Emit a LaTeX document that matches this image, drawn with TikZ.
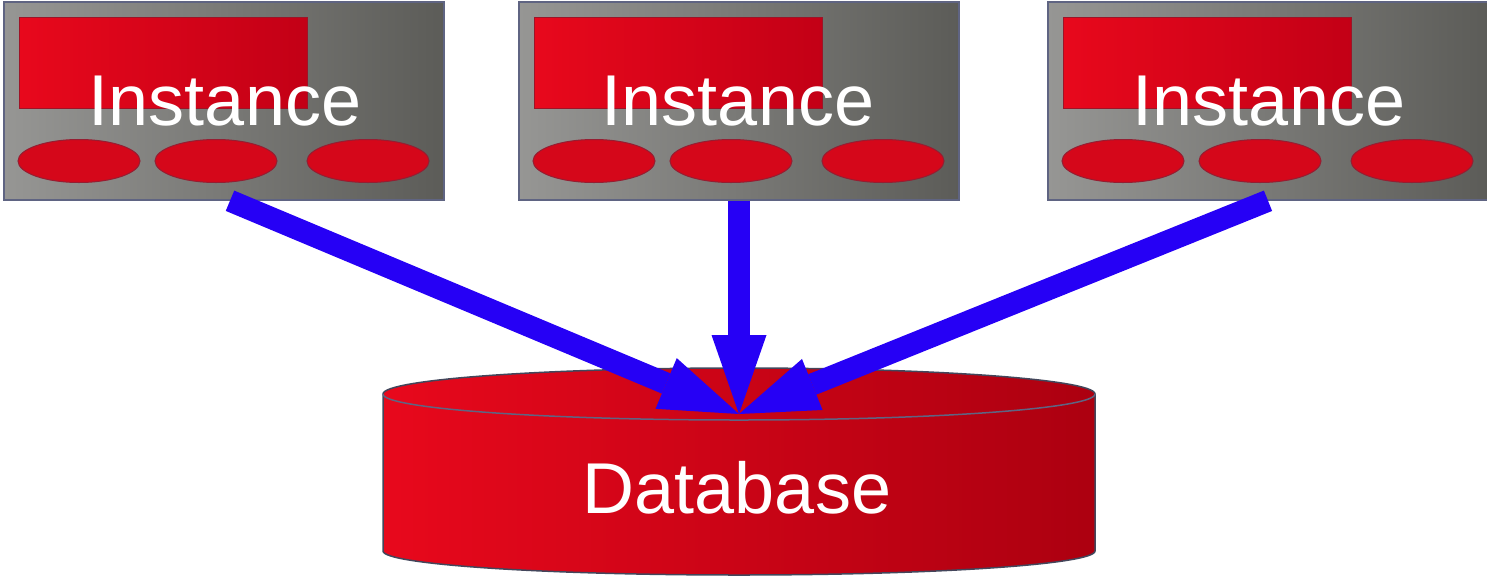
\documentclass[tikz,border=0pt]{standalone}
\usepackage{fontspec}
\setmainfont{Liberation Sans}
\usetikzlibrary{shapes.geometric,arrows.meta}
\definecolor{boxlight}{RGB}{150,150,148}
\definecolor{boxdark}{RGB}{92,92,88}
\definecolor{redlight}{RGB}{232,8,28}
\definecolor{reddark}{RGB}{172,0,16}
\definecolor{screendark}{RGB}{195,0,22}
\definecolor{rimline}{RGB}{95,100,130}
\definecolor{flowblue}{RGB}{38,0,245}

\begin{document}
\begin{tikzpicture}
[every node/.style={inner sep=0pt},
 instbox/.style={rectangle, minimum width=440pt, minimum height=198pt, left color=boxlight, right color=boxdark, line width=1.5pt, draw=rimline},
 screen/.style={rectangle, minimum width=288pt, minimum height=91pt, left color=redlight, right color=screendark, line width=1pt, draw=reddark!80!rimline},
 led/.style={ellipse, minimum width=122pt, minimum height=43pt, fill=redlight!92!black, line width=1pt, draw=reddark!70!rimline},
 caption/.style={text=white, font=\fontsize{72}{80}\selectfont, anchor=base},
 flow/.style={line width=22pt, color=flowblue, -{Triangle[length=79pt, width=55pt, line width=0pt]}}]
\useasboundingbox (0pt, 0pt) rectangle (1487pt, -576pt);
\node (inst1) [instbox] at (224pt, -101pt) {};
\node (scr1) [screen] at (163pt, -62.5pt) {};
\node (led1a) [led] at (79pt, -161pt) {};
\node (led1b) [led] at (216pt, -161pt) {};
\node (led1c) [led] at (368pt, -161pt) {};
\node (lbl1) [caption] at (225pt, -125pt) {Instance};
\node (inst2) [instbox] at (739pt, -101pt) {};
\node (scr2) [screen] at (678pt, -62.5pt) {};
\node (led2a) [led] at (594pt, -161pt) {};
\node (led2b) [led] at (731pt, -161pt) {};
\node (led2c) [led] at (883pt, -161pt) {};
\node (lbl2) [caption] at (738pt, -125pt) {Instance};
\node (inst3) [instbox] at (1268pt, -101pt) {};
\node (scr3) [screen] at (1207pt, -62.5pt) {};
\node (led3a) [led] at (1123pt, -161pt) {};
\node (led3b) [led] at (1260pt, -161pt) {};
\node (led3c) [led] at (1412pt, -161pt) {};
\node (lbl3) [caption] at (1269pt, -125pt) {Instance};
% database drum
\path [left color=redlight, right color=reddark, draw=rimline!70!black, line width=1.5pt] (383pt, -394pt) -- (383pt, -551pt) arc [start angle=180, end angle=360, x radius=356pt, y radius=24pt] -- (1095pt, -394pt) arc [start angle=0, end angle=180, x radius=356pt, y radius=26pt] -- cycle;
\draw [rimline, line width=1.5pt] (383pt, -394pt) arc [start angle=180, end angle=360, x radius=356pt, y radius=26pt];
\coordinate (dbtop) at (739pt, -414pt);
\node (db) [caption] at (737pt, -513pt) {Database};
\draw [flow] ([xshift=6pt]inst1.south) -- (dbtop);
\draw [flow] (inst2.south) -- (dbtop);
\draw [flow] (inst3.south) -- (dbtop);
\end{tikzpicture}
\end{document}
